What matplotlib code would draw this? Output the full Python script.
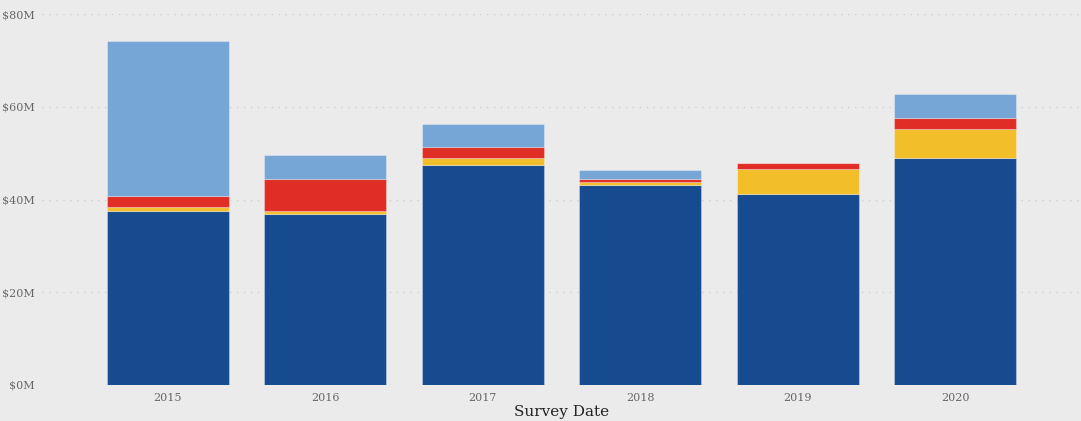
import matplotlib
matplotlib.use("Agg")
import matplotlib.pyplot as plt
import numpy as np

# Survey years and stacked amounts (millions of dollars)
years = ["2015", "2016", "2017", "2018", "2019", "2020"]
core = [37.6, 36.8, 47.4, 43.2, 41.1, 48.9]
gold = [0.8, 0.7, 1.6, 0.5, 5.5, 6.4]
red = [2.4, 6.9, 2.3, 0.7, 1.3, 2.3]
light = [33.3, 5.3, 4.9, 1.9, 0.0, 5.2]
y_ticks = [0, 20, 40, 60, 80]
y_tick_labels = ["$0M", "$20M", "$40M", "$60M", "$80M"]

series = [core, gold, red, light]
colors = ["#164B8F", "#F2BF2B", "#E02D26", "#76A6D6"]

bg = "#EBEBEB"
fig = plt.figure(figsize=(10.81, 4.21), dpi=100, facecolor=bg)
ax = fig.add_axes([42 / 1081, 36 / 421, 1 - 42 / 1081, (385 - 14) / 421])
ax.set_facecolor(bg)

x = np.arange(len(years))
bottom = np.zeros(len(years))
for vals, c in zip(series, colors):
    vals = np.array(vals)
    ax.bar(x, vals, width=0.775, bottom=bottom, color=c,
           edgecolor=(1, 1, 1, 0.3), linewidth=0.8, zorder=3)
    bottom += vals

ax.set_xlim(-0.8, 5.8)
ax.set_ylim(0, 80)
ax.set_yticks(y_ticks)
ax.set_yticklabels(y_tick_labels)
ax.set_xticks(x)
ax.set_xticklabels(years)

for s in ax.spines.values():
    s.set_visible(False)
ax.tick_params(length=0)
ax.tick_params(axis="y", pad=5, labelsize=8, labelcolor="#666666")
ax.tick_params(axis="x", pad=6, labelsize=8, labelcolor="#666666")
for lbl in ax.get_xticklabels() + ax.get_yticklabels():
    lbl.set_family("DejaVu Serif")

ax.grid(axis="y", color="#CFCFCF", linestyle=(0, (1, 4)), linewidth=1, zorder=0)
ax.grid(axis="x", visible=False)

ax.set_xlabel("Survey Date", fontsize=11, color="#222222",
              family="DejaVu Serif", labelpad=1)

fig.savefig("out.png", dpi=100, facecolor=bg)
